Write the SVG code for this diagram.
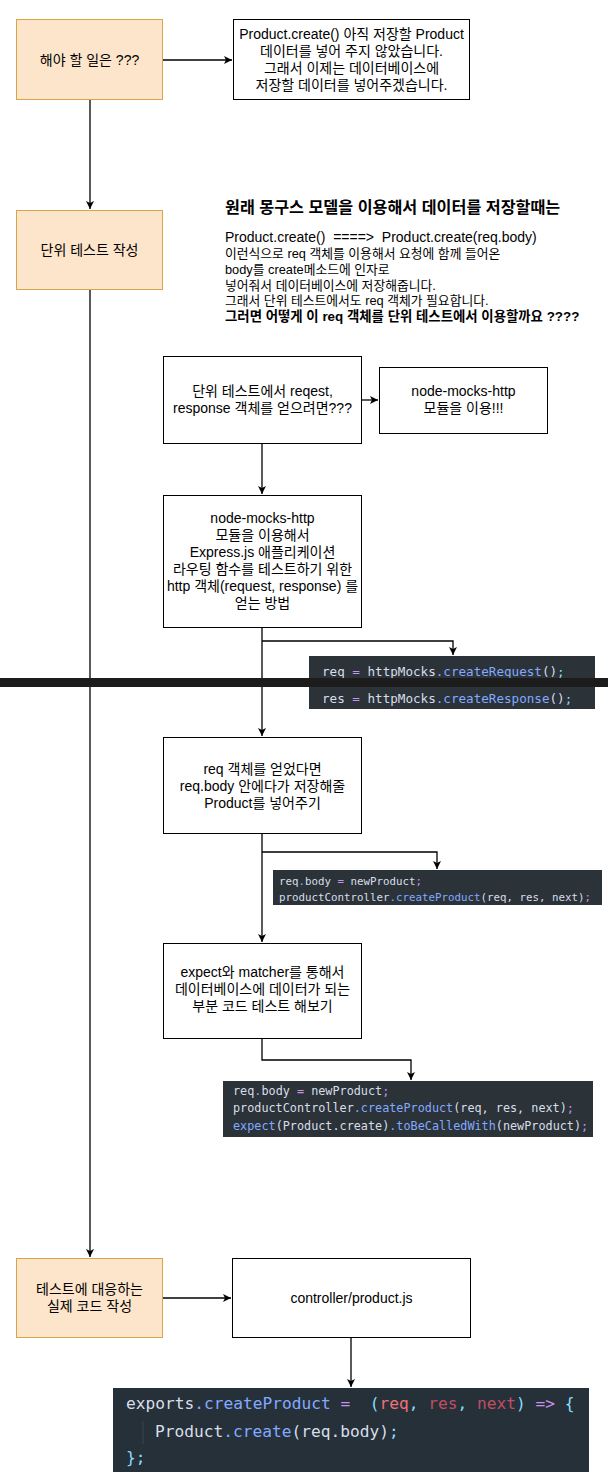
<svg xmlns="http://www.w3.org/2000/svg" width="608" height="1472" viewBox="0 0 608 1472">
<style>
.t{font-family:"Liberation Sans","Noto Sans CJK KR",sans-serif;fill:#000}
.c{text-anchor:middle;font-size:14px}
.ob{fill:#fde5cb;stroke:#d9a545;stroke-width:1}
.wb{fill:#fff;stroke:#000;stroke-width:1}
.ln{fill:none;stroke:#000;stroke-width:1.3}
.code{font-family:"DejaVu Sans Mono",monospace;fill:#d8dee9}
.cb{fill:#2b3238}
.p{fill:#c792ea}.b{fill:#82aaff}.y{fill:#89ddff}.r{fill:#f07178}.rd{fill:#c24d63}
</style>
<defs>
<marker id="ar" markerUnits="userSpaceOnUse" markerWidth="10" markerHeight="10" refX="8" refY="4" orient="auto">
<path d="M0,0 L8,4 L0,8 L2,4 z" fill="#000"/>
</marker>
</defs>
<rect width="608" height="1472" fill="#fff"/>
<g id="connectors">
<line class="ln" x1="163" y1="60" x2="232" y2="60" marker-end="url(#ar)"/>
<line class="ln" x1="90" y1="100" x2="90" y2="209" marker-end="url(#ar)"/>
<line class="ln" x1="90" y1="290" x2="90" y2="1257" marker-end="url(#ar)"/>
<line class="ln" x1="163" y1="1298" x2="231" y2="1298" marker-end="url(#ar)"/>
<line class="ln" x1="351" y1="1338" x2="351" y2="1387" marker-end="url(#ar)"/>
<line class="ln" x1="361" y1="400" x2="378" y2="400" marker-end="url(#ar)"/>
<line class="ln" x1="262" y1="443" x2="262" y2="494" marker-end="url(#ar)"/>
<line class="ln" x1="262" y1="627" x2="262" y2="736" marker-end="url(#ar)"/>
<polyline class="ln" points="262,641 453,641 453,655" marker-end="url(#ar)"/>
<line class="ln" x1="262" y1="833" x2="262" y2="942" marker-end="url(#ar)"/>
<polyline class="ln" points="262,852 437,852 437,869" marker-end="url(#ar)"/>
<polyline class="ln" points="262,1038 262,1060 411,1060 411,1080" marker-end="url(#ar)"/>
</g>
<g id="nodeA">
<rect class="ob" x="16.5" y="19.5" width="146" height="80"/>
<text class="t c" x="89.5" y="65">해야 할 일은 ???</text>
</g>
<g id="nodeB">
<rect class="wb" x="233.5" y="19.5" width="236" height="80"/>
<text class="t c" x="351.5" y="39">Product.create() 아직 저장할 Product</text>
<text class="t c" x="351.5" y="56">데이터를 넣어 주지 않았습니다.</text>
<text class="t c" x="351.5" y="73">그래서 이제는 데이터베이스에</text>
<text class="t c" x="351.5" y="90">저장할 데이터를 넣어주겠습니다.</text>
</g>
<g id="nodeC">
<rect class="ob" x="16.5" y="210.5" width="146" height="79"/>
<text class="t c" x="89.5" y="255">단위 테스트 작성</text>
</g>
<g id="explain">
<text class="t" x="225" y="213" font-size="16.2" font-weight="bold">원래 몽구스 모델을 이용해서 데이터를 저장할때는</text>
<text class="t" x="225" y="242" font-size="14" xml:space="preserve">Product.create()  ====&gt;  Product.create(req.body)</text>
<text class="t" x="225" y="258" font-size="12.8">이런식으로 req 객체를 이용해서 요청에 함께 들어온</text>
<text class="t" x="225" y="274" font-size="12.8">body를 create메소드에 인자로</text>
<text class="t" x="225" y="290" font-size="12.8">넣어줘서 데이터베이스에 저장해줍니다.</text>
<text class="t" x="225" y="305" font-size="12.8">그래서 단위 테스트에서도 req 객체가 필요합니다.</text>
<text class="t" x="225" y="321" font-size="13.4" font-weight="bold">그러면 어떻게 이 req 객체를 단위 테스트에서 이용할까요 ????</text>
</g>
<g id="nodeF">
<rect class="wb" x="163.5" y="356.5" width="198" height="87"/>
<text class="t c" x="262.5" y="396">단위 테스트에서 reqest,</text>
<text class="t c" x="262.5" y="413">response 객체를 얻으려면???</text>
</g>
<g id="nodeG">
<rect class="wb" x="379.5" y="367.5" width="168" height="66"/>
<text class="t c" x="463.5" y="396">node-mocks-http</text>
<text class="t c" x="463.5" y="413">모듈을 이용!!!</text>
</g>
<g id="nodeH">
<rect class="wb" x="163.5" y="495.5" width="198" height="132"/>
<text class="t c" x="262.5" y="523">node-mocks-http</text>
<text class="t c" x="262.5" y="540">모듈을 이용해서</text>
<text class="t c" x="262.5" y="557">Express.js 애플리케이션</text>
<text class="t c" x="262.5" y="574">라우팅 함수를 테스트하기 위한</text>
<text class="t c" x="262.5" y="591">http 객체(request, response) 를</text>
<text class="t c" x="262.5" y="608">얻는 방법</text>
</g>
<g id="code1">
<rect class="cb" x="309" y="656" width="286" height="53"/>
<text class="code" x="322" y="676" font-size="12.6" xml:space="preserve">req <tspan class="p">=</tspan> httpMocks<tspan class="b">.createRequest</tspan>()<tspan class="y">;</tspan></text>
<text class="code" x="322" y="703" font-size="12.6" xml:space="preserve">res <tspan class="p">=</tspan> httpMocks<tspan class="b">.createResponse</tspan>()<tspan class="y">;</tspan></text>
</g>
<rect id="separator" x="0" y="678" width="608" height="9" fill="#1c1c1c"/>
<g id="nodeI">
<rect class="wb" x="163.5" y="737.5" width="198" height="96"/>
<text class="t c" x="262.5" y="774">req 객체를 얻었다면</text>
<text class="t c" x="262.5" y="791">req.body 안에다가 저장해줄</text>
<text class="t c" x="262.5" y="808">Product를 넣어주기</text>
</g>
<g id="code2">
<rect class="cb" x="273" y="870" width="329" height="35"/>
<text class="code" x="279" y="885" font-size="10.8" xml:space="preserve">req<tspan class="b">.</tspan>body <tspan class="p">=</tspan> newProduct<tspan class="p">;</tspan></text>
<text class="code" x="279" y="901" font-size="10.8" xml:space="preserve">productController<tspan class="b">.createProduct</tspan>(req, res, next)<tspan class="p">;</tspan></text>
</g>
<g id="nodeJ">
<rect class="wb" x="163.5" y="943.5" width="198" height="95"/>
<text class="t c" x="262.5" y="977">expect와 matcher를 통해서</text>
<text class="t c" x="262.5" y="994">데이터베이스에 데이터가 되는</text>
<text class="t c" x="262.5" y="1011">부분 코드 테스트 해보기</text>
</g>
<g id="code3">
<rect class="cb" x="223" y="1081" width="370" height="56"/>
<text class="code" x="233" y="1095" font-size="11.8" xml:space="preserve">req<tspan class="b">.</tspan>body <tspan class="p">=</tspan> newProduct<tspan class="p">;</tspan></text>
<text class="code" x="233" y="1112" font-size="11.8" xml:space="preserve">productController<tspan class="b">.createProduct</tspan>(req, res, next)<tspan class="p">;</tspan></text>
<text class="code" x="233" y="1130" font-size="11.8" xml:space="preserve"><tspan class="b">expect</tspan>(Product.create)<tspan class="b">.toBeCalledWith</tspan>(newProduct)<tspan class="p">;</tspan></text>
</g>
<g id="nodeD">
<rect class="ob" x="16.5" y="1258.5" width="146" height="79"/>
<text class="t c" x="89.5" y="1294">테스트에 대응하는</text>
<text class="t c" x="89.5" y="1311">실제 코드 작성</text>
</g>
<g id="nodeE">
<rect class="wb" x="232.5" y="1258.5" width="238" height="79"/>
<text class="t c" x="351.5" y="1303">controller/product.js</text>
</g>
<g id="code4">
<rect x="113" y="1388" width="476" height="84" fill="#263039"/>
<line x1="143" y1="1421" x2="143" y2="1444" stroke="#3a4550" stroke-width="1"/>
<text class="code" x="126" y="1409" font-size="16.2" xml:space="preserve">exports<tspan class="b">.createProduct</tspan> <tspan class="p">=</tspan>  <tspan class="y">(</tspan><tspan class="r">req</tspan><tspan class="y">,</tspan> <tspan class="rd">res</tspan><tspan class="y">,</tspan> <tspan class="rd">next</tspan><tspan class="y">)</tspan> <tspan class="p">=&gt;</tspan> <tspan class="y">{</tspan></text>
<text class="code" x="155" y="1437" font-size="16.2" xml:space="preserve">Product<tspan class="b">.create</tspan>(req.body)<tspan class="y">;</tspan></text>
<text class="code" x="126" y="1463" font-size="16.2" xml:space="preserve"><tspan class="y">};</tspan></text>
</g>
</svg>
